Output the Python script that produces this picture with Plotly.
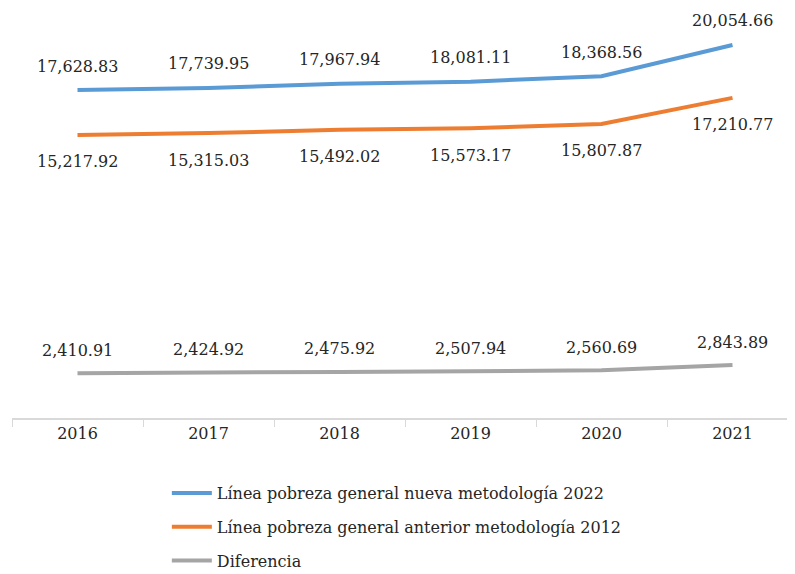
import plotly.graph_objects as go

years = ["2016", "2017", "2018", "2019", "2020", "2021"]
nueva = [17628.83, 17739.95, 17967.94, 18081.11, 18368.56, 20054.66]
anterior = [15217.92, 15315.03, 15492.02, 15573.17, 15807.87, 17210.77]
diferencia = [2410.91, 2424.92, 2475.92, 2507.94, 2560.69, 2843.89]

names = [
    "Línea pobreza general nueva metodología 2022",
    "Línea pobreza general anterior metodología 2012",
    "Diferencia",
]
colors = ["#5B9BD5", "#ED7D31", "#A5A5A5"]
series = [nueva, anterior, diferencia]
shifts = [24, -27, 23]

font_fam = "DejaVu Serif"

fig = go.Figure()
for i, (name, vals, col) in enumerate(zip(names, series, colors)):
    fig.add_trace(go.Scatter(x=years, y=vals, name=name, mode="lines",
                             legendgroup=f"g{i}",
                             line=dict(color=col, width=4)))

for vals, sh in zip(series, shifts):
    for i, v in enumerate(vals):
        fig.add_annotation(x=i, y=v, text=f"{v:,.2f}", showarrow=False,
                           yshift=sh, font=dict(family=font_fam, size=16, color="#262626"))

fig.update_layout(
    width=795, height=574,
    margin=dict(l=4, r=5, t=0, b=164, autoexpand=False),
    plot_bgcolor="white", paper_bgcolor="white",
    font=dict(family=font_fam, size=16, color="#262626"),
    showlegend=True,
    legend=dict(orientation="v", x=0.197, xanchor="left", y=-0.1415, yanchor="top",
                font=dict(family=font_fam, size=16, color="#262626"),
                tracegroupgap=10, itemwidth=40),
    xaxis=dict(type="category", range=[-0.5, 5.5], tickson="boundaries", ticks="outside", ticklen=7,
               tickcolor="#D9D9D9", showline=True, linecolor="#D9D9D9", linewidth=1.5,
               showgrid=False, automargin=False,
               tickfont=dict(family=font_fam, size=16, color="#262626")),
    yaxis=dict(range=[0, 22040], visible=False, showgrid=False, zeroline=False,
               automargin=False),
)

fig.write_html("out.html")
